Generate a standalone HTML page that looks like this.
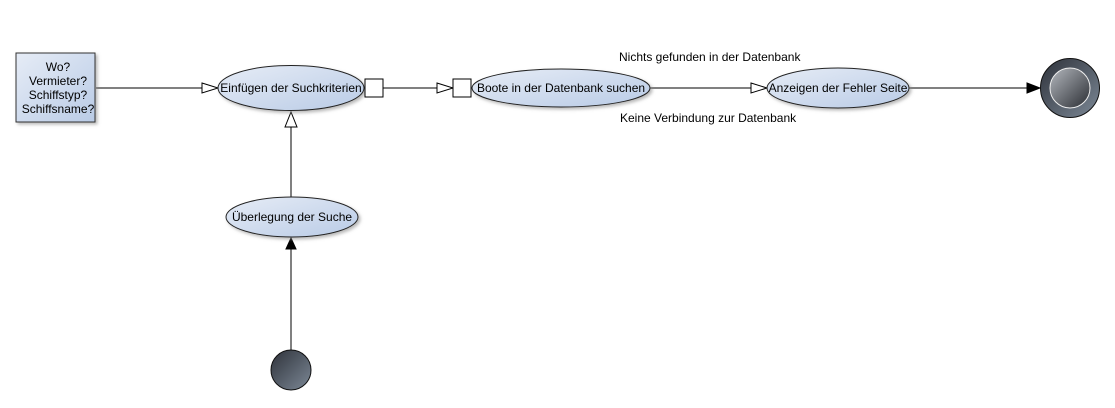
<!DOCTYPE html>
<html><head><meta charset="utf-8"><style>html,body{margin:0;padding:0;background:#fff;width:1115px;height:408px;overflow:hidden}</style></head>
<body>
<svg width="1115" height="408" xmlns="http://www.w3.org/2000/svg" font-family="Liberation Sans, sans-serif" font-size="12">
<defs>
<linearGradient id="g" x1="0" y1="0" x2="1" y2="1"><stop offset="0" stop-color="#e6ecf6"/><stop offset="1" stop-color="#b9cbe6"/></linearGradient>
<linearGradient id="d" x1="0" y1="0" x2="1" y2="1"><stop offset="0" stop-color="#2e323a"/><stop offset="1" stop-color="#7c8896"/></linearGradient>
<linearGradient id="d2" x1="0" y1="0" x2="1" y2="1"><stop offset="0" stop-color="#b4b8be"/><stop offset="1" stop-color="#2a2d33"/></linearGradient>
<filter id="s"><feDropShadow dx="2" dy="2" stdDeviation="1.5" flood-color="#888" flood-opacity="0.6"/></filter>
</defs>
<g stroke="#000" stroke-width="1" fill="none">
<line x1="96" y1="88" x2="202" y2="88"/>
<polygon points="202,83 218,88 202,93" fill="#fff"/>
<line x1="383" y1="88" x2="437" y2="88"/>
<polygon points="437,83 453,88 437,93" fill="#fff"/>
<line x1="650" y1="88" x2="751" y2="88"/>
<polygon points="751,83 767,88 751,93" fill="#fff"/>
<line x1="908" y1="88" x2="1027" y2="88"/>
<polygon points="1027,83 1040,88 1027,93" fill="#000"/>
<line x1="291" y1="197" x2="291" y2="126"/>
<polygon points="285,127 291,112 297,127" fill="#fff"/>
<line x1="291" y1="350" x2="291" y2="248"/>
<polygon points="286,249 291,238 296,249" fill="#000"/>
</g>
<rect x="16" y="53" width="79" height="69" fill="url(#g)" stroke="#333" filter="url(#s)"/>
<text x="58" y="71" text-anchor="middle">Wo?</text>
<text x="58" y="85" text-anchor="middle">Vermieter?</text>
<text x="58" y="99" text-anchor="middle">Schiffstyp?</text>
<text x="58" y="113" text-anchor="middle">Schiffsname?</text>
<g stroke="#222" fill="url(#g)" filter="url(#s)">
<ellipse cx="291" cy="88" rx="73" ry="22.5"/>
<ellipse cx="561" cy="88" rx="89" ry="19"/>
<ellipse cx="838" cy="88" rx="71" ry="20"/>
<ellipse cx="292" cy="217" rx="66" ry="20"/>
</g>
<rect x="365" y="79" width="18" height="18" fill="#fff" stroke="#000"/>
<rect x="453" y="79" width="18" height="18" fill="#fff" stroke="#000"/>
<text x="291" y="92" text-anchor="middle">Einfügen der Suchkriterien</text>
<text x="561" y="92" text-anchor="middle">Boote in der Datenbank suchen</text>
<text x="838" y="92" text-anchor="middle">Anzeigen der Fehler Seite</text>
<text x="292" y="221" text-anchor="middle">Überlegung der Suche</text>
<text x="619" y="61">Nichts gefunden in der Datenbank</text>
<text x="620" y="122">Keine Verbindung zur Datenbank</text>
<circle cx="1070" cy="88" r="29.5" fill="url(#d)" stroke="#111"/>
<circle cx="1070" cy="88" r="20" fill="url(#d2)" stroke="#eee"/>
<circle cx="291" cy="370" r="20" fill="url(#d)" stroke="#111"/>
</svg>
</body></html>
